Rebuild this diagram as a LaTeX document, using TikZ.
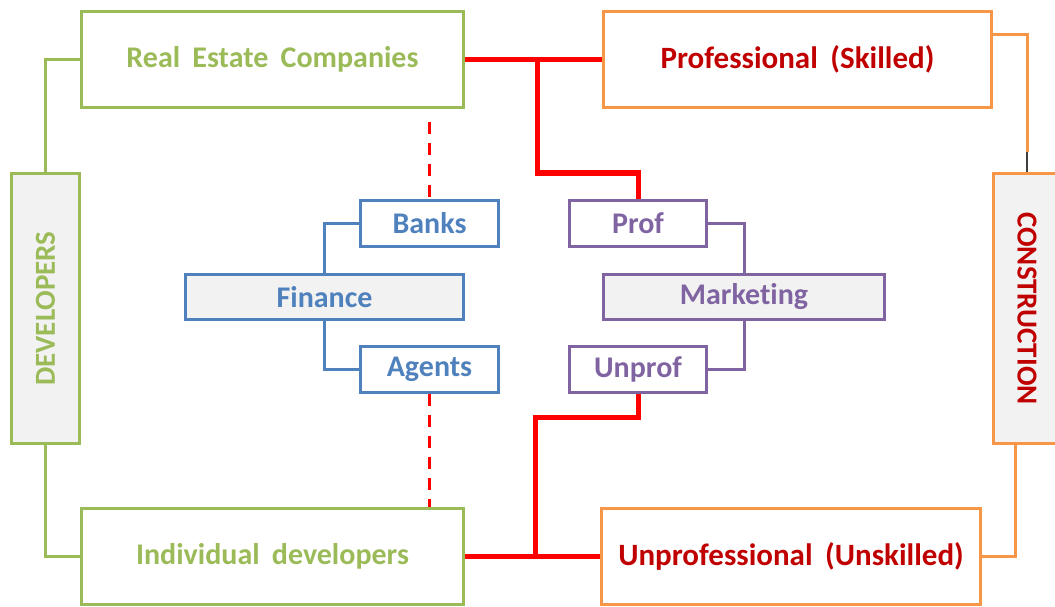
\documentclass[tikz,border=0pt]{standalone}
\usepackage{fontspec}
\setmainfont{Carlito}[WordSpace=1.8, Ligatures={NoCommon}]
\definecolor{cgreen}{HTML}{9BBB59}
\definecolor{corange}{HTML}{F79646}
\definecolor{cblue}{HTML}{4F81BD}
\definecolor{cpurple}{HTML}{8064A2}
\definecolor{ctext}{HTML}{C00000}
\definecolor{cred}{HTML}{FF0000}
\definecolor{cfill}{HTML}{F2F2F2}
\definecolor{cdark}{HTML}{404040}
\tikzset{
  box/.style={rectangle, inner sep=0pt, line width=3pt, font=\fontsize{30}{36}\selectfont\bfseries},
  gbox/.style={box, draw=cgreen, text=cgreen},
  obox/.style={box, draw=corange, text=ctext},
  bbox/.style={box, draw=cblue, text=cblue},
  pbox/.style={box, draw=cpurple, text=cpurple},
  vtext/.style={inner sep=0pt, font=\fontsize{29}{34}\selectfont\bfseries},
  gline/.style={draw=cgreen, line width=3pt},
  oline/.style={draw=corange, line width=3pt},
  bline/.style={draw=cblue, line width=3pt},
  pline/.style={draw=cpurple, line width=3pt},
  rline/.style={draw=cred, line width=5pt},
  rdash/.style={draw=cred, line width=2.6pt, dash pattern=on 12pt off 9pt},
}
\begin{document}
\begin{tikzpicture}[x=1pt,y=-1pt]
\useasboundingbox (0,0) rectangle (1055,607);
\begin{scope}
\clip (0,0) rectangle (1055,607);
% big boxes
\node[gbox, minimum width=382, minimum height=96] (rea) at (272.5,59.5) {\raisebox{-2pt}{Real Estate Companies}};
\node[gbox, minimum width=382, minimum height=96] (ind) at (272.5,556) {\raisebox{-2pt}{Individual developers}};
\node[obox, font=\fontsize{31}{36}\selectfont\bfseries, minimum width=388, minimum height=96] (pro) at (797.5,59.5) {\raisebox{-2pt}{Professional (Skilled)}};
\node[obox, font=\fontsize{31}{36}\selectfont\bfseries, minimum width=379, minimum height=96] (unp) at (791,556) {\raisebox{-2pt}{Unprofessional (Unskilled)}};
\node[gbox, fill=cfill, minimum width=68, minimum height=270] (dev) at (45.5,308.5) {};
\node[vtext, text=cgreen, rotate=90] (devt) at (dev.center) {DEVELOPERS};
\node[obox, fill=cfill, minimum width=68, minimum height=270] (con) at (1027,308.5) {};
\node[vtext, text=ctext, rotate=-90] (cont) at (con.center) {CONSTRUCTION};
% finance
\node[bbox, minimum width=138, minimum height=46] (banks) at (429.5,223.5) {Banks};
\node[bbox, fill=cfill, minimum width=278, minimum height=45] (fin) at (324.5,297) {Finance};
\node[bbox, minimum width=138, minimum height=46] (agents) at (429.5,369) {Agents};
% marketing
\node[pbox, minimum width=137, minimum height=46] (prof) at (638,223.5) {Prof};
\node[pbox, fill=cfill, minimum width=281, minimum height=45] (mkt) at (744,297) {Marketing};
\node[pbox, minimum width=137, minimum height=46] (unprof) at (638,369) {Unprof};
% helper coordinates
\coordinate (ot) at (0,35);
\coordinate (oc) at (1027,152);
\coordinate (ob) at (1015,0);
\coordinate (rb) at (537,59.5);
\coordinate (rt) at (638,173);
\coordinate (rk) at (535,417);
\coordinate (rj) at (535,556);
\coordinate (dt) at (429.5,122);
% green connectors
\draw[gline] (rea.west) -| (dev.north);
\draw[gline] (dev.south) |- (ind.west);
% orange connectors
\draw[oline] (pro.east |- ot) -| (oc);
\draw[draw=cdark, line width=1.5pt] (oc) -- (con.north);
\draw[oline] (con.south -| ob) |- (unp.east);
% red connectors
\draw[rline] (rea.east) -- (pro.west);
\draw[rline] (rb) |- (rt) -- (prof.north);
\draw[rline] (ind.east) -- (unp.west);
\draw[rline] (unprof.south) |- (rk) -- (rj);
% dashed
\draw[rdash] (dt) -- (banks.north);
\draw[rdash] (agents.south) -- (agents.south |- ind.north);
% blue / purple trees
\draw[bline] (fin.north) |- (banks.west);
\draw[bline] (fin.south) |- (agents.west);
\draw[pline] (mkt.north) |- (prof.east);
\draw[pline] (mkt.south) |- (unprof.east);
\end{scope}
\end{tikzpicture}
\end{document}
